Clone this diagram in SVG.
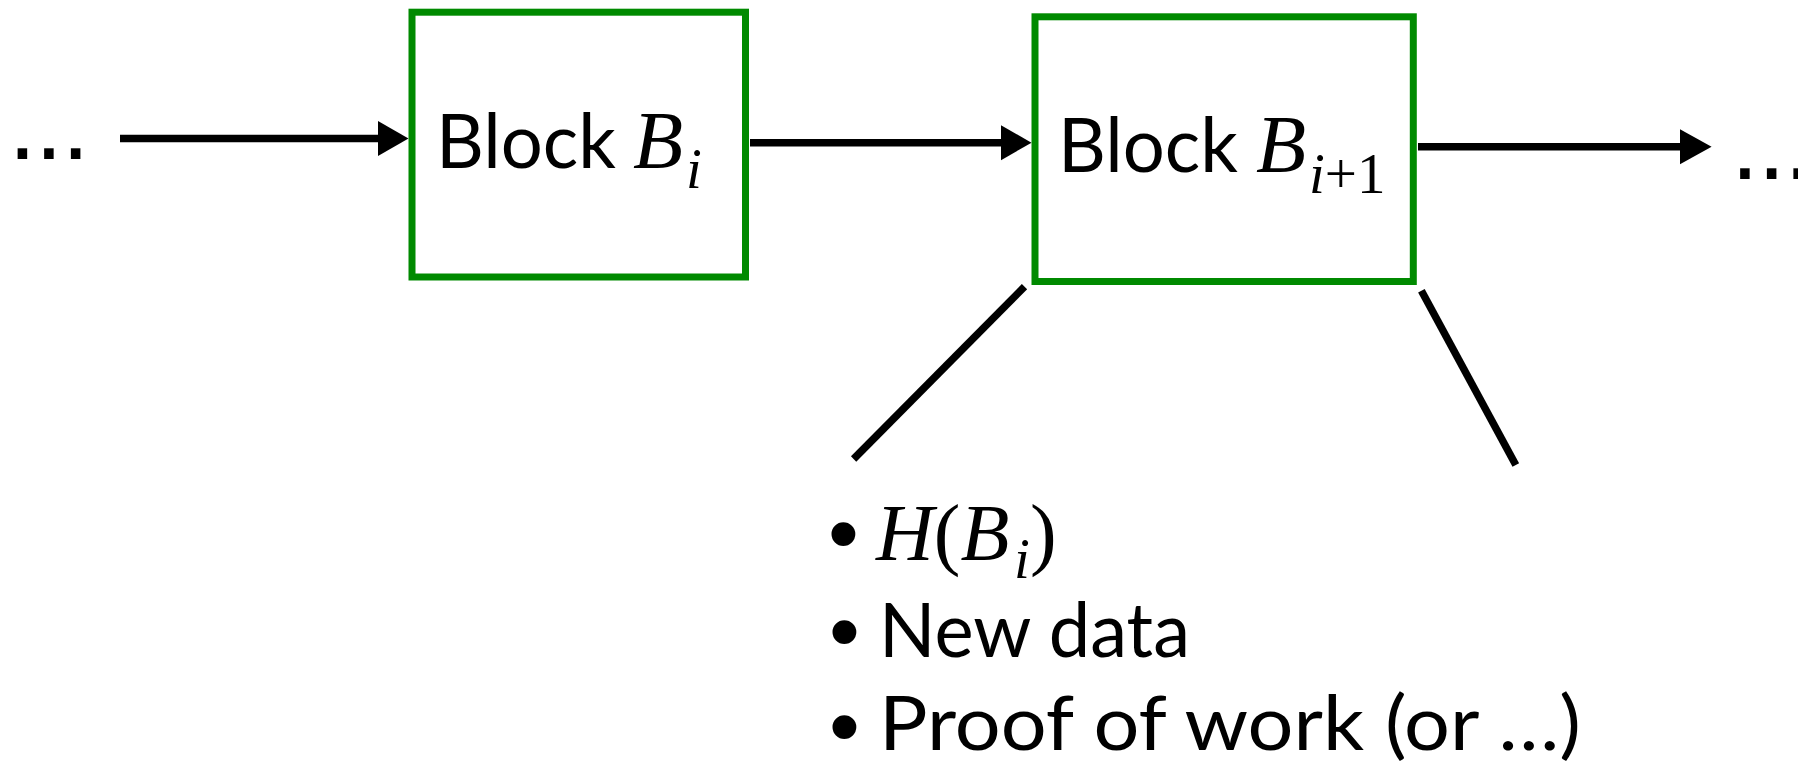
<svg xmlns="http://www.w3.org/2000/svg" width="1798" height="765" viewBox="0 0 1798 765">
<style>
.box{fill:#fff;stroke:#008a00;stroke-width:7}
.sans{font-family:Lato,"Open Sans","Liberation Sans",sans-serif;fill:#000}
.math{font-family:"Liberation Serif","Times New Roman",serif;fill:#000}
.it{font-style:italic}
.conn{stroke:#000;stroke-width:7.5;fill:none}
.head{fill:#000}
.dots{font-family:"Liberation Sans",Arial,sans-serif;font-size:100px;letter-spacing:-1.1px;fill:#000}
.bul{font-family:"Liberation Sans",Arial,sans-serif;font-size:88px;fill:#000}
</style>
<rect width="1798" height="765" fill="#fff"/>
<text class="dots" x="8.4" y="158.5">...</text>
<text class="dots" x="1731" y="179.2">...</text>
<g id="connectors">
<path class="conn" d="M120,138.5 H385"/>
<polygon class="head" points="378,121 408.5,138.5 378,156"/>
<path class="conn" d="M750,142.7 H1008"/>
<polygon class="head" points="1001,125.2 1031.5,142.7 1001,160.2"/>
<path class="conn" d="M1418,146.7 H1687"/>
<polygon class="head" points="1680,129.2 1711.6,146.7 1680,164.2"/>
<line class="conn" x1="1024.5" y1="286.7" x2="853.6" y2="459"/>
<line class="conn" x1="1421.4" y1="290.7" x2="1515.8" y2="465"/>
</g>
<g id="block-i">
<rect class="box" x="412" y="12.2" width="333.5" height="264.8"/>
<text class="sans" x="436" y="168.3" font-size="75" textLength="180" lengthAdjust="spacingAndGlyphs">Block</text>
<text class="math it" x="633" y="168.3" font-size="82">B<tspan x="686" y="188" font-size="57">i</tspan></text>
</g>
<g id="block-i1">
<rect class="box" x="1035" y="16.8" width="378.3" height="264.7"/>
<text class="sans" x="1058" y="171.7" font-size="75" textLength="180" lengthAdjust="spacingAndGlyphs">Block</text>
<text class="math" x="1256" y="171.7" font-size="82"><tspan class="it">B</tspan><tspan x="1309" y="192.7" font-size="57"><tspan class="it">i</tspan>+1</tspan></text>
</g>
<g id="contents">
<text class="bul" x="843.3" y="563" text-anchor="middle">•</text>
<text class="math" x="876" y="560" font-size="80"><tspan class="it">H</tspan>(<tspan class="it">B</tspan><tspan class="it" x="1014" y="578" font-size="57">i</tspan><tspan x="1030" y="560">)</tspan></text>
<text class="bul" x="844.5" y="661" text-anchor="middle">•</text>
<text class="sans" x="879" y="656.7" font-size="75" textLength="311" lengthAdjust="spacingAndGlyphs">New data</text>
<text class="bul" x="844.5" y="756" text-anchor="middle">•</text>
<text class="sans" x="879" y="750" font-size="75" textLength="702" lengthAdjust="spacingAndGlyphs">Proof of work (or …)</text>
</g>
</svg>
